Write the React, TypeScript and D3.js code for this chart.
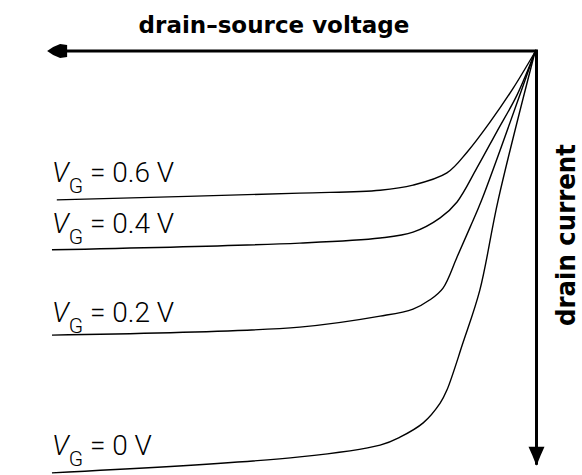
import * as d3 from "d3"

// drain-source voltage (arbitrary units, grows to the left) and drain current (grows downward)
const vgLabels = ["0.6", "0.4", "0.2", "0"]

const vds06 = [0, 0.45, 0.93, 1.4, 1.82, 2.52, 3.2, 4.86, 9.88]
const id06 = [0, 0.86, 1.67, 2.38, 2.88, 3.17, 3.29, 3.36, 3.52]

const vds04 = [0, 0.37, 0.79, 1.2, 1.61, 1.96, 2.52, 3.2, 4.86, 9.98]
const id04 = [0, 1.02, 1.9, 2.76, 3.57, 3.95, 4.29, 4.43, 4.55, 4.71]

const vds02 = [0, 1.1, 1.34, 1.61, 1.9, 2.17, 2.52, 3.2, 4.86, 9.98]
const id02 = [0, 3.52, 4.17, 4.88, 5.62, 5.9, 6.12, 6.29, 6.55, 6.74]

const vds00 = [0, 0.76, 1.14, 1.49, 1.82, 1.96, 2.31, 2.79, 3.2, 4.86, 9.98]
const id00 = [0, 3.52, 5.67, 6.93, 8.05, 8.36, 8.83, 9.17, 9.36, 9.64, 10.02]

// label baselines (in current units) and where the labels start
const labelCurrent = [3.1, 4.31, 6.43, 9.6]
const labelVoltage = 9.98

const curves = [
  { v: vds06, i: id06 },
  { v: vds04, i: id04 },
  { v: vds02, i: id02 },
  { v: vds00, i: id00 },
]

export default function App() {
  const width = 582
  const height = 475

  const x = d3.scaleLinear().domain([0, 10]).range([535, 51])
  const y = d3.scaleLinear().domain([0, 10]).range([52, 472])

  const line = d3
    .line<[number, number]>()
    .x((d) => x(d[0]))
    .y((d) => y(d[1]))
    .curve(d3.curveCatmullRom.alpha(0.5))

  const ox = x(0) + 1.5
  const oy = y(0) - 1

  // arrow heads
  const leftTip = x(10.08)
  const bottomTip = y(9.83)

  return (
    <svg
      width={width}
      height={height}
      style={{ position: "absolute", left: 0, top: 0, background: "#fff" }}
    >
      {/* title */}
      <text
        x={274}
        y={33}
        textAnchor="middle"
        fontFamily="DejaVu Sans"
        fontWeight="bold"
        fontSize={23}
        fill="#000"
      >
        drain–source voltage
      </text>

      {/* horizontal axis */}
      <line x1={ox} y1={oy} x2={leftTip + 18} y2={oy} stroke="#000" strokeWidth={3} />
      <path
        d={`M${leftTip},${oy} L${leftTip + 6},${oy - 4} L${leftTip + 13},${oy - 7} L${leftTip + 20},${oy - 6} L${leftTip + 20},${oy + 6} L${leftTip + 13},${oy + 7} L${leftTip + 6},${oy + 4} Z`}
        fill="#000"
      />

      {/* vertical axis */}
      <line x1={ox} y1={oy - 1.5} x2={ox} y2={bottomTip} stroke="#000" strokeWidth={3} />
      <path
        d={`M${ox - 8},${bottomTip - 18} L${ox + 8},${bottomTip - 18} L${ox + 4},${bottomTip - 9} L${ox},${bottomTip + 1} L${ox - 4},${bottomTip - 9} Z`}
        fill="#000"
      />

      {/* vertical axis label */}
      <text
        transform={`translate(575,235) rotate(-90) scale(0.94,1)`}
        textAnchor="middle"
        fontFamily="DejaVu Sans"
        fontWeight="bold"
        fontSize={26}
        fill="#000"
      >
        drain current
      </text>

      {/* characteristic curves */}
      {curves.map((c, k) => (
        <path
          key={k}
          d={line(c.v.map((v, j) => [v, c.i[j]] as [number, number])) || ""}
          fill="none"
          stroke="#000"
          strokeWidth={1.4}
        />
      ))}

      {/* gate voltage labels */}
      {vgLabels.map((lab, k) => (
        <text
          key={lab}
          x={x(labelVoltage)}
          y={y(labelCurrent[k])}
          fontFamily="Roboto"
          fontWeight={300}
          fontSize={28}
          fill="#000"
        >
          <tspan fontStyle="italic">V</tspan>
          <tspan fontSize={21} dy={11}>
            G
          </tspan>
          <tspan dy={-11}>{` = ${lab} V`}</tspan>
        </text>
      ))}
    </svg>
  )
}
